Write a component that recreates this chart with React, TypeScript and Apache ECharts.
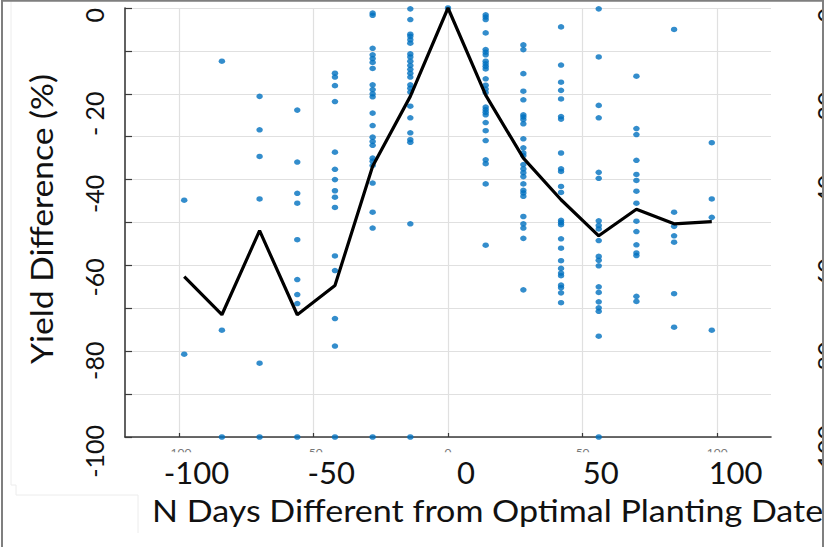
import React, { useEffect, useRef } from "react";
import * as echarts from "echarts";

// x positions (days from optimal planting date)
const days = [-98, -84, -70, -56, -42, -28, -14, 0, 14, 28, 42, 56, 70, 84, 98];

// individual yield differences (%) per planting offset
const yieldM98 = [-44.8, -80.7];
const yieldM84 = [-12.4, -75.1, -100];
const yieldM70 = [-20.6, -28.4, -34.6, -44.5, -82.8, -100];
const yieldM56 = [-23.8, -35.9, -43.2, -45.5, -54.0, -63.3, -66.8, -68.9, -100];
const yieldM42 = [-15.2, -16.1, -18.1, -21.8, -33.6, -37.6, -40.0, -42.6, -44.1, -46.5, -57.8, -61.2, -72.4, -78.8, -100];
const yieldM28 = [-1.2, -1.7, -9.4, -10.9, -11.8, -12.7, -14.1, -17.9, -19.0, -20.0, -20.7, -24.5, -27.4, -30.1, -31.1, -32.0, -35.0, -35.7, -36.7, -40.8, -47.6, -51.3, -100];
const yieldM14 = [-0.2, -2.7, -6.1, -6.6, -7.4, -8.2, -10.7, -11.4, -12.4, -13.4, -14.3, -15.2, -16.1, -17.9, -18.7, -19.6, -22.9, -25.6, -29.1, -30.7, -31.3, -50.3, -100];
const yield0 = [0];
const yieldP14 = [-1.6, -2.1, -2.7, -5.8, -9.7, -10.3, -10.9, -12.4, -13.0, -13.6, -14.2, -16.5, -18.0, -18.9, -19.7, -23.1, -23.7, -24.3, -24.9, -26.7, -28.6, -30.9, -35.4, -36.3, -41.0, -55.3];
const yieldP28 = [-8.6, -9.7, -15.3, -19.4, -21.4, -24.9, -25.4, -26.0, -27.0, -30.5, -32.6, -33.8, -34.4, -36.5, -37.5, -38.4, -39.3, -41.0, -42.5, -43.1, -43.9, -48.6, -50.3, -51.3, -53.7, -65.7];
const yieldP42 = [-4.4, -13.3, -17.3, -19.2, -21.2, -25.3, -25.9, -33.8, -37.5, -38.1, -41.6, -43.0, -49.5, -50.0, -50.5, -53.8, -56.0, -58.9, -60.7, -61.8, -62.4, -64.6, -65.2, -66.4, -68.7];
const yieldP56 = [-0.2, -11.4, -22.7, -25.6, -38.3, -39.7, -49.6, -50.7, -51.5, -54.2, -57.9, -58.8, -60.1, -65.0, -66.3, -68.5, -69.9, -70.7, -76.5, -100];
const yieldP70 = [-15.9, -28.1, -29.5, -35.5, -38.8, -40.2, -42.7, -45.5, -49.7, -52.1, -55.2, -57.1, -57.7, -67.2, -68.4];
const yieldP84 = [-5.0, -47.6, -50.9, -53.1, -54.6, -66.6, -74.4];
const yieldP98 = [-31.4, -44.5, -48.8, -75.1];

// mean yield difference line
const meanYield = [-62.6, -71.5, -51.9, -71.5, -64.7, -36.9, -20.6, 0, -20.3, -35.0, -44.7, -53.1, -46.9, -50.3, -49.8];

// tick labels
const xTickValues = [-100, -50, 0, 50, 100];
const yTickLabels = ["0", "- 20", "-40", "-60", "-80", "-100"];

const xTitle = "N Days Different from Optimal Planting Date";
const yTitle = "Yield Difference (%)";

const scatterGroups = [
  yieldM98, yieldM84, yieldM70, yieldM56, yieldM42, yieldM28, yieldM14, yield0,
  yieldP14, yieldP28, yieldP42, yieldP56, yieldP70, yieldP84, yieldP98,
];

const FONT = "Lato";

export default function App() {
  const ref = useRef<HTMLDivElement>(null);

  useEffect(() => {
    if (!ref.current) return;
    const chart = echarts.init(ref.current, null, { renderer: "svg" });

    const scatterData: number[][] = [];
    scatterGroups.forEach((g, i) => g.forEach((v) => scatterData.push([days[i], v])));
    const lineData = days.map((d, i) => [d, meanYield[i]]);

    const yLabelFormatter = (v: number) => yTickLabels[Math.round(-v / 20)] ?? "";

    const outerYLabel = (position: string, margin: number) => ({
      gridIndex: 2,
      type: "value",
      position,
      min: -100,
      max: 0,
      interval: 20,
      axisLine: { show: false, onZero: false },
      axisTick: { show: false },
      splitLine: { show: false },
      axisLabel: {
        rotate: 90,
        align: "right",
        verticalAlign: "middle",
        margin,
        fontSize: 25,
        lineHeight: 25,
        fontFamily: FONT,
        color: "#111",
        formatter: yLabelFormatter,
      },
    });

    chart.setOption({
      animation: false,
      backgroundColor: "#ffffff",
      grid: [
        { left: 125, top: 8, width: 646, height: 429, outerBoundsMode: "none", containLabel: false },
        { left: 196.4, top: 8, width: 539.2, height: 429, outerBoundsMode: "none", containLabel: false },
        { left: 125, top: 8, width: 646, height: 417, outerBoundsMode: "none", containLabel: false },
      ],
      xAxis: [
        {
          gridIndex: 0,
          type: "value",
          min: -120,
          max: 120,
          z: 0,
          axisLine: { show: true, onZero: false, lineStyle: { color: "#3a3a3a", width: 1.6 } },
          axisTick: { show: true, inside: true, length: 4, customValues: xTickValues, lineStyle: { color: "#3a3a3a", width: 1.2 } },
          axisLabel: { customValues: xTickValues, fontSize: 12, lineHeight: 12, color: "#777", margin: 9.5, fontFamily: FONT },
          splitLine: { show: true, lineStyle: { color: "#e0e0e0", width: 1.2 } },
        },
        {
          gridIndex: 1,
          type: "value",
          min: -100,
          max: 100,
          interval: 50,
          z: 10,
          axisLine: { show: false, onZero: false },
          axisTick: { show: false },
          splitLine: { show: false },
          axisLabel: { fontSize: 31, lineHeight: 31, fontFamily: FONT, color: "#111", margin: 19 },
        },
        { gridIndex: 2, type: "value", show: false, min: 0, max: 1 },
      ],
      yAxis: [
        {
          gridIndex: 0,
          type: "value",
          min: -100,
          max: 0,
          interval: 10,
          axisLine: { show: true, onZero: false, lineStyle: { color: "#3a3a3a", width: 1.6 } },
          axisTick: { show: true, inside: true, length: 7, lineStyle: { color: "#3a3a3a", width: 1.2 } },
          axisLabel: { show: false },
          splitLine: { show: true, lineStyle: { color: "#e0e0e0", width: 1.2 } },
        },
        { gridIndex: 1, type: "value", show: false, min: 0, max: 1 },
        outerYLabel("left", 31),
        outerYLabel("right", 55),
      ],
      series: [
        {
          type: "scatter",
          xAxisIndex: 0,
          yAxisIndex: 0,
          data: scatterData,
          symbol: "circle",
          symbolSize: [6.5, 5.5],
          itemStyle: { color: "#0070BF" },
          z: 2,
        },
        {
          type: "line",
          xAxisIndex: 0,
          yAxisIndex: 0,
          data: lineData,
          symbol: "none",
          lineStyle: { color: "#000000", width: 3.2 },
          z: 3,
        },
      ],
      graphic: [
        {
          type: "rect",
          z: 5,
          shape: { x: 130, y: 452.3, width: 680, height: 10 },
          style: { fill: "#ffffff" },
        },
        {
          type: "text",
          z: 20,
          x: 152,
          y: 510.5,
          scaleX: 1.135,
          style: { text: xTitle, font: `30px ${FONT}`, fill: "#111", align: "left", verticalAlign: "middle" },
        },
        {
          type: "text",
          z: 20,
          x: 41.5,
          y: 219,
          rotation: Math.PI / 2,
          scaleX: 1.12,
          style: { text: yTitle, font: `30px ${FONT}`, fill: "#111", align: "center", verticalAlign: "middle" },
        },
        {
          type: "polyline",
          z: 1,
          shape: { points: [[11, 0], [11, 485], [16, 485], [16, 495], [138, 495], [138, 533]] },
          style: { stroke: "#ececec", lineWidth: 1, fill: null },
        },
        {
          type: "rect",
          z: 50,
          shape: { x: 823.5, y: 0, width: 4, height: 547 },
          style: { fill: "#ffffff" },
        },
        {
          type: "polyline",
          z: 60,
          shape: { points: [[2, 547], [2, 0.8], [823, 0.8], [823, 547]] },
          style: { stroke: "#7f7f7f", lineWidth: 2, fill: null },
        },
      ],
    });

    return () => chart.dispose();
  }, []);

  return (
    <div
      ref={ref}
      style={{ position: "fixed", left: 0, top: 0, width: 826, height: 547, background: "#fff" }}
    />
  );
}
